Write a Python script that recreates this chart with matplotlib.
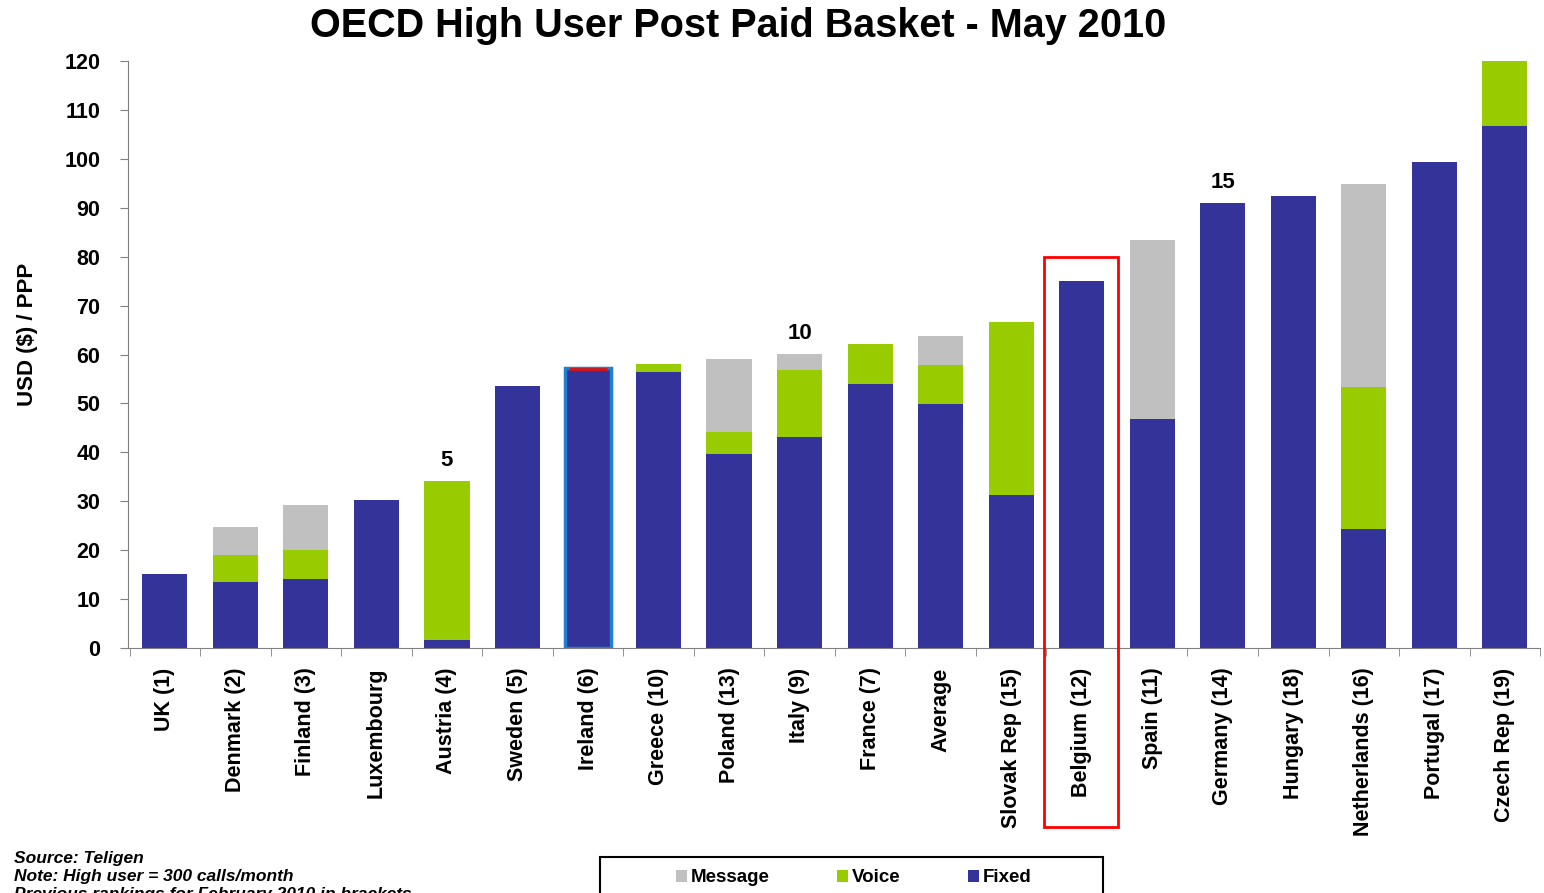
import matplotlib.pyplot as plt
import numpy as np
from matplotlib.patches import Rectangle

plt.rcParams['font.family'] = ['Liberation Sans', 'DejaVu Sans']

# values (USD/PPP)
countries = ['UK (1)', 'Denmark (2)', 'Finland (3)', 'Luxembourg', 'Austria (4)',
             'Sweden (5)', 'Ireland (6)', 'Greece (10)', 'Poland (13)', 'Italy (9)',
             'France (7)', 'Average', 'Slovak Rep (15)', 'Belgium (12)', 'Spain (11)',
             'Germany (14)', 'Hungary (18)', 'Netherlands (16)', 'Portugal (17)',
             'Czech Rep (19)']
fixed = [15.1, 13.5, 14.1, 30.3, 1.6, 53.6, 57.3, 56.4, 39.7, 43.1,
         54.0, 49.9, 31.3, 75.0, 46.8, 91.0, 92.4, 24.3, 99.4, 106.7]
voice = [0, 5.5, 5.9, 0, 32.6, 0, 0, 1.7, 4.5, 13.8,
         8.2, 8.0, 35.4, 0, 0, 0, 0, 29.1, 0, 13.3]
message = [0, 5.7, 9.2, 0, 0, 0, 0, 0, 14.9, 3.2,
           0, 5.9, 0, 0, 36.6, 0, 0, 41.5, 0, 0]
rank_marks = {'Austria (4)': '5', 'Italy (9)': '10', 'Germany (14)': '15'}

c_fixed = '#333399'
c_voice = '#99cc00'
c_msg = '#c0c0c0'

x = np.arange(len(countries))
fixed = np.array(fixed)
voice = np.array(voice)
message = np.array(message)
total = fixed + voice + message

fig = plt.figure(figsize=(15.44, 8.93), dpi=100)
ax = fig.add_axes([0.083, 0.2743, 0.9145, 0.6574])

w = 0.64
ax.bar(x, fixed, w, color=c_fixed, label='Fixed', zorder=2)
ax.bar(x, voice, w, bottom=fixed, color=c_voice, label='Voice', zorder=2)
ax.bar(x, message, w, bottom=fixed + voice, color=c_msg, label='Message', zorder=2)

# Ireland highlight: blue outline with red cap
irl = countries.index('Ireland (6)')
ax.bar(irl, total[irl], w, fill=False, edgecolor='#1f7fd0', linewidth=2.5, zorder=3)
ax.hlines(total[irl] - 0.3, irl - w / 2 + 0.05, irl + w / 2 - 0.05, color='#dd1111', lw=2, zorder=4)

# Belgium highlight box
bel = countries.index('Belgium (12)')
ax.add_patch(Rectangle((bel - 0.54, -36.6), 1.06, 116.6, fill=False, edgecolor='red',
                       linewidth=2, clip_on=False, zorder=5))

for name, lab in rank_marks.items():
    i = countries.index(name)
    ax.text(i, total[i] + 2, lab, ha='center', va='bottom', fontsize=16, fontweight='bold')

ax.set_xlim(-0.52, 19.42)
ax.set_ylim(0, 120)
ax.set_yticks(range(0, 121, 10))
ax.set_xticks(x)
ax.set_xticklabels(countries, rotation=90, fontsize=15.5, fontweight='bold')
ax.set_xticks(np.arange(-0.5, 19.6, 1), minor=True)
ax.tick_params(axis='x', which='major', length=0, pad=14)
ax.tick_params(axis='x', which='minor', length=6, color='#808080', direction='out')
ax.tick_params(axis='y', length=6, color='#808080', labelsize=15.5, pad=14)
for t in ax.get_yticklabels():
    t.set_fontweight('bold')
for s in ['top', 'right']:
    ax.spines[s].set_visible(False)
ax.spines['left'].set_color('#808080')
ax.spines['bottom'].set_color('#808080')

ax.set_ylabel('USD ($) / PPP', fontsize=16, fontweight='bold')
ax.yaxis.set_label_coords(-0.064, 0.535)
fig.text(0.478, 0.971, 'OECD High User Post Paid Basket - May 2010', ha='center', va='center',
         fontsize=28.5, fontweight='bold')

# legend, frame drawn separately so it can run off the bottom edge
handles, labels = ax.get_legend_handles_labels()
order = [2, 1, 0]
leg = fig.legend([handles[i] for i in order], [labels[i] for i in order],
                 loc='center', bbox_to_anchor=(0.553, 0.017), ncol=3,
                 frameon=False, handlelength=0.6, handleheight=0.6,
                 handletextpad=0.2, columnspacing=3.6,
                 prop={'weight': 'bold', 'size': 13.5})
fig.add_artist(Rectangle((0.3886, -0.01), 0.3258, 0.0503, transform=fig.transFigure,
                         fill=False, edgecolor='black', linewidth=1.5))

note_kw = dict(fontsize=12.5, fontweight='bold', fontstyle='italic', ha='left', va='center')
fig.text(0.009, 0.039, 'Source: Teligen', **note_kw)
fig.text(0.009, 0.018, 'Note: High user = 300 calls/month', **note_kw)
fig.text(0.009, -0.002, 'Previous rankings for February 2010 in brackets', **note_kw)

fig.savefig('out.png', dpi=100)
